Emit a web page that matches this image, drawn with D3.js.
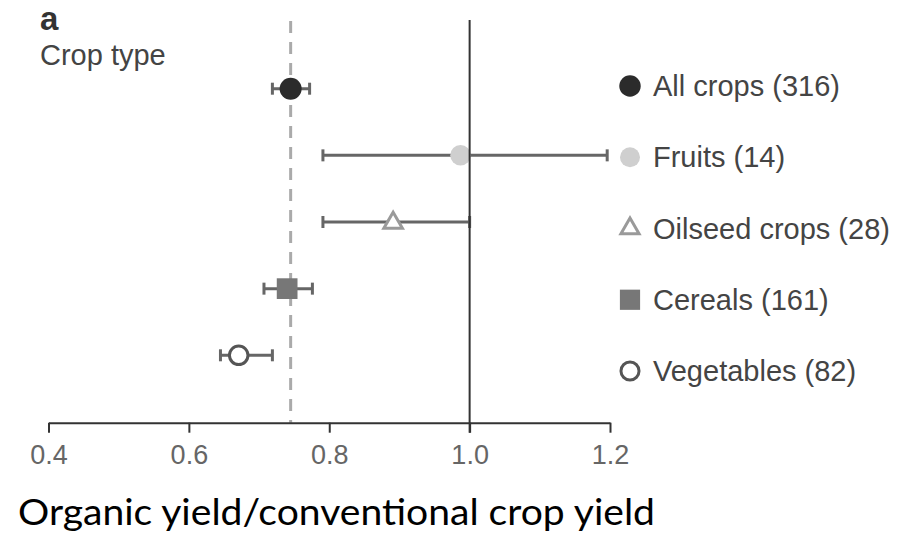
<!DOCTYPE html>
<html>
<head>
<meta charset="utf-8">
<script src="https://cdn.jsdelivr.net/npm/d3@7"></script>
<style>
  body { margin: 0; background: #fff; }
  svg { display: block; font-family: "Liberation Sans", Arial, sans-serif; }
</style>
</head>
<body>
<svg id="chart" width="902" height="533"></svg>
<script>
// data
var categories = ["All crops", "Fruits", "Oilseed crops", "Cereals", "Vegetables"]
var counts = [316, 14, 28, 161, 82]
var means = [0.745, 0.987, 0.891, 0.740, 0.671]
var lower = [0.719, 0.791, 0.791, 0.707, 0.645]
var upper = [0.772, 1.196, 1.000, 0.776, 0.719]
var overallMean = 0.745
var xTicks = [0.4, 0.6, 0.8, 1.0, 1.2]

var svg = d3.select("#chart")

var x = d3.scaleLinear().domain([0.4, 1.2]).range([48.5, 610])
var y = d3.scalePoint().domain(categories).range([88.7, 355.3])
var yLegend = d3.scalePoint().domain(categories).range([86, 371])
var axisY = 422.7

// marker styles per category
var styles = {
    "All crops":     { type: d3.symbolCircle,   size: 380, fill: "#2b2b2b", stroke: "none", sw: 0 },
    "Fruits":        { type: d3.symbolCircle,   size: 330, fill: "#cfcfcf", stroke: "none", sw: 0 },
    "Oilseed crops": { type: d3.symbolTriangle, size: 150, fill: "#fff",    stroke: "#9a9a9a", sw: 3 },
    "Cereals":       { type: d3.symbolSquare,   size: 430, fill: "#777",    stroke: "none", sw: 0 },
    "Vegetables":    { type: d3.symbolCircle,   size: 270, fill: "#fff",    stroke: "#555", sw: 3 }
}

var rows = categories.map((c, i) => ({ cat: c, n: counts[i], mean: means[i], lo: lower[i], hi: upper[i] }))

// panel letter + title
svg.append("text").attr("x", 40).attr("y", 30)
    .attr("font-size", 33).attr("font-weight", "bold").attr("fill", "#333").text("a")
svg.append("text").attr("x", 40).attr("y", 65)
    .attr("font-size", 29).attr("fill", "#444").text("Crop type")

// dashed overall mean line
svg.append("line")
    .attr("x1", x(overallMean)).attr("x2", x(overallMean))
    .attr("y1", 21).attr("y2", axisY)
    .attr("stroke", "#aaa").attr("stroke-width", 3)
    .attr("stroke-dasharray", "12,9")

// x axis
var xAxis = d3.axisBottom(x)
    .tickValues(xTicks)
    .tickFormat(d3.format(".1f"))
    .tickSize(10)
    .tickSizeOuter(0)
    .tickPadding(12)

svg.append("g")
    .attr("transform", `translate(0,${axisY})`)
    .call(xAxis)
    .call(g => g.select(".domain").attr("stroke", "#333").attr("stroke-width", 2))
    .call(g => g.selectAll(".tick line").attr("stroke", "#333").attr("stroke-width", 2))
    .call(g => g.selectAll(".tick text")
        .attr("font-size", 27).attr("fill", "#666")
        .attr("font-family", "Liberation Sans, Arial, sans-serif"))

// error bars
var bars = svg.append("g").selectAll("g")
    .data(rows)
    .enter()
    .append("g")
    .attr("stroke", "#666").attr("stroke-width", 3)

bars.append("line")
    .attr("x1", d => x(d.lo)).attr("x2", d => x(d.hi))
    .attr("y1", d => y(d.cat)).attr("y2", d => y(d.cat))
bars.append("line")
    .attr("x1", d => x(d.lo)).attr("x2", d => x(d.lo))
    .attr("y1", d => y(d.cat) - 6).attr("y2", d => y(d.cat) + 6)
bars.append("line")
    .attr("x1", d => x(d.hi)).attr("x2", d => x(d.hi))
    .attr("y1", d => y(d.cat) - 6).attr("y2", d => y(d.cat) + 6)

// points
svg.append("g").selectAll("path")
    .data(rows)
    .enter()
    .append("path")
    .attr("transform", d => `translate(${x(d.mean)},${y(d.cat) + (d.cat === "Oilseed crops" ? 1 : 0)})`)
    .attr("d", d => d3.symbol().type(styles[d.cat].type).size(styles[d.cat].size)())
    .attr("fill", d => styles[d.cat].fill)
    .attr("stroke", d => styles[d.cat].stroke)
    .attr("stroke-width", d => styles[d.cat].sw)

// reference line at 1.0 (no difference)
svg.append("line")
    .attr("x1", x(1)).attr("x2", x(1))
    .attr("y1", 20).attr("y2", axisY + 10)
    .attr("stroke", "#333").attr("stroke-width", 2)

// legend
var legend = svg.append("g").selectAll("g")
    .data(rows)
    .enter()
    .append("g")
    .attr("transform", d => `translate(630,${yLegend(d.cat)})`)

legend.append("path")
    .attr("d", d => d3.symbol().type(styles[d.cat].type).size(styles[d.cat].size * 0.95)())
    .attr("fill", d => styles[d.cat].fill)
    .attr("stroke", d => styles[d.cat].stroke)
    .attr("stroke-width", d => styles[d.cat].sw)

legend.append("text")
    .attr("x", 23)
    .attr("y", 10)
    .attr("font-size", 29)
    .attr("fill", "#444")
    .text(d => `${d.cat} (${d.n})`)

// x axis title
svg.append("text")
    .attr("x", 18).attr("y", 525)
    .attr("font-family", "Lato, 'Open Sans', sans-serif")
    .attr("font-size", 37)
    .attr("fill", "#000")
    .attr("textLength", 637)
    .attr("lengthAdjust", "spacingAndGlyphs")
    .text("Organic yield/conventional crop yield")
</script>
</body>
</html>
